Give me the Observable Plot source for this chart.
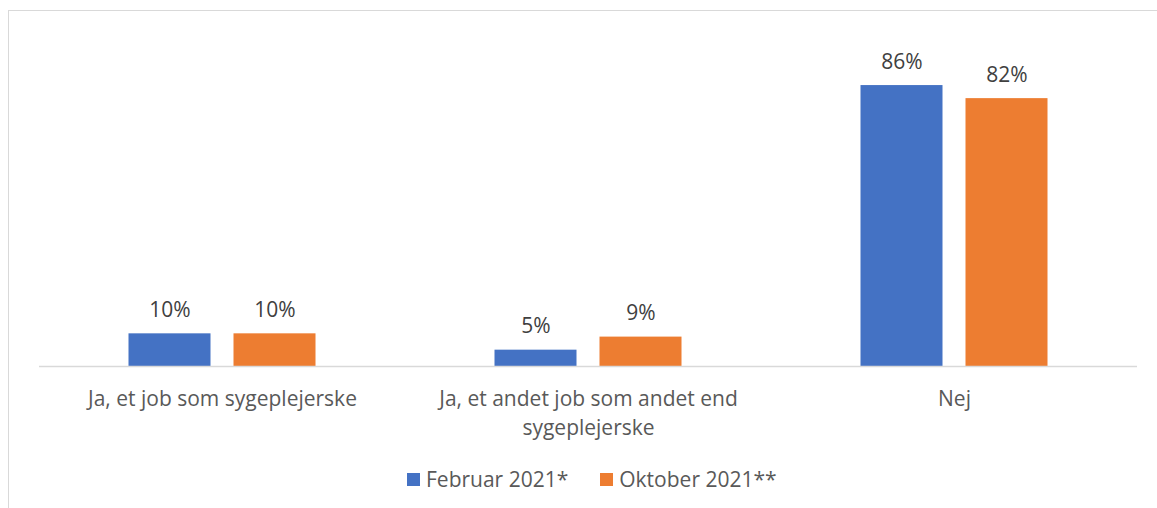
<!DOCTYPE html>
<html>
<head>
<meta charset="utf-8">
<script src="https://cdn.jsdelivr.net/npm/d3@7"></script>
<script src="https://cdn.jsdelivr.net/npm/@observablehq/plot@0.6"></script>
<style>
  html, body { margin: 0; padding: 0; background: #fff; width: 1157px; height: 508px; overflow: hidden; position: relative; font-family: "Open Sans", sans-serif; }
  #frame { position: absolute; left: 8px; top: 10px; width: 1170px; height: 520px; border: 1.5px solid #d9d9d9; box-sizing: border-box; }
  #chart { position: absolute; left: 0; top: 0; }
  #legend { position: absolute; left: 407px; top: 465px; display: flex; align-items: center; font-size: 21px; color: #595959; white-space: nowrap; }
  .item { display: flex; align-items: center; margin-right: 32px; }
  .sw { width: 13px; height: 13px; margin-right: 6px; }
</style>
</head>
<body>
<div id="frame"></div>
<div id="chart"></div>
<div id="legend"></div>
<script>
const categories = ["Ja, et job som sygeplejerske", "Ja, et andet job som andet end sygeplejerske", "Nej"];
const categoryLabels = ["Ja, et job som sygeplejerske", "Ja, et andet job som andet end\nsygeplejerske", "Nej"];
const series = ["Februar 2021*", "Oktober 2021**"];
const februar = [10, 5, 86];
const oktober = [10, 9, 82];
const colors = ["#4472C4", "#ED7D31"];

const data = [];
categories.forEach((c, i) => {
  data.push({category: c, series: series[0], value: februar[i]});
  data.push({category: c, series: series[1], value: oktober[i]});
});
const labelData = categories.map((c, i) => ({category: c, label: categoryLabels[i]}));

const plot = Plot.plot({
  width: 1157,
  height: 450,
  marginLeft: 38.5,
  marginRight: 20.5,
  marginTop: 72,
  marginBottom: 84,
  style: {fontFamily: "'Open Sans', sans-serif", background: "transparent"},
  fx: {domain: categories, paddingInner: 0, paddingOuter: 0, axis: null, label: null},
  x: {domain: series, paddingInner: 0.219, paddingOuter: 0.852, axis: null, label: null},
  y: {domain: [0, 90], axis: null, label: null},
  color: {domain: series, range: colors},
  marks: [
    Plot.barY(data, {fx: "category", x: "series", y: "value", fill: "series"}),
    Plot.ruleY([0], {stroke: "#d9d9d9", strokeWidth: 1.5}),
    Plot.text(data, {fx: "category", x: "series", y: "value", text: d => d.value + "%", lineAnchor: "bottom", dy: -17, fill: "#404040", fontSize: 21}),
    Plot.text(labelData, {fx: "category", text: "label", frameAnchor: "bottom", lineAnchor: "top", dy: 18, lineHeight: 1.42, fill: "#595959", fontSize: 21})
  ]
});
document.getElementById("chart").appendChild(plot);

const legend = document.getElementById("legend");
series.forEach((s, i) => {
  const item = document.createElement("div");
  item.className = "item";
  const sw = document.createElement("div");
  sw.className = "sw";
  sw.style.background = colors[i];
  const t = document.createElement("span");
  t.textContent = s;
  item.appendChild(sw);
  item.appendChild(t);
  legend.appendChild(item);
});
</script>
</body>
</html>
